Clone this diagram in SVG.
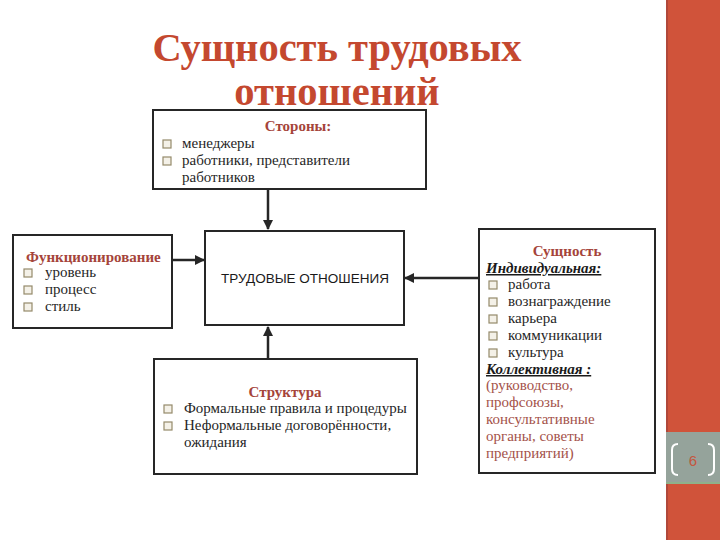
<svg xmlns="http://www.w3.org/2000/svg" width="720" height="540" viewBox="0 0 720 540">
<style>
.box{fill:#fff;stroke:#262626;stroke-width:2}
.t{font-family:"Liberation Serif",serif;font-size:15px;fill:#262626}
.h{font-family:"Liberation Serif",serif;font-size:15px;font-weight:bold;fill:#A5443A}
.u{font-family:"Liberation Serif",serif;font-size:15px;font-weight:bold;font-style:italic;text-decoration:underline;fill:#1a1a1a}
.r{font-family:"Liberation Serif",serif;font-size:15px;fill:#A4524A}
.cb{fill:#F4F1E8;stroke:#948A6A;stroke-width:1.2}
.title{font-family:"Liberation Serif",serif;font-size:40.5px;font-weight:bold;fill:#C4482F}
.ln{stroke:#262626;stroke-width:2.5;fill:none}
</style>
<defs>
<marker id="ah" viewBox="0 0 10 10" refX="9" refY="5" markerWidth="4" markerHeight="4" orient="auto">
<path d="M0,0 L10,5 L0,10 z" fill="#262626"/>
</marker>
<symbol id="chk" viewBox="0 0 10 10"><rect class="cb" x="1" y="1" width="8" height="8"/></symbol>
</defs>
<rect width="720" height="540" fill="#fff"/>
<g id="sidebar">
<rect x="666" y="0" width="54" height="540" fill="#D0533A"/>
<rect x="666" y="0" width="2" height="540" fill="#B0483A"/>
<rect x="666" y="432" width="54" height="50" fill="#95A39B"/>
<rect x="666" y="482" width="54" height="2" fill="#8FB08A"/>
<path d="M678,444 Q672,444 672,450 L672,469 Q672,475 678,475" stroke="#fff" stroke-width="2" fill="none"/>
<path d="M708,444 Q714,444 714,450 L714,469 Q714,475 708,475" stroke="#fff" stroke-width="2" fill="none"/>
<text x="693" y="466" text-anchor="middle" font-family="Liberation Sans,sans-serif" font-size="15" fill="#C4573F">6</text>
</g>
<g id="title">
<text class="title" x="337" y="61" text-anchor="middle">Сущность трудовых</text>
<text class="title" x="337" y="105" text-anchor="middle">отношений</text>
</g>
<g id="connectors">
<line class="ln" x1="268" y1="189" x2="268" y2="229" marker-end="url(#ah)"/>
<line class="ln" x1="172" y1="260" x2="204" y2="260" marker-end="url(#ah)"/>
<line class="ln" x1="479" y1="278" x2="405" y2="278" marker-end="url(#ah)"/>
<line class="ln" x1="268" y1="359" x2="268" y2="327" marker-end="url(#ah)"/>
</g>
<g id="storony">
<rect class="box" x="153" y="110" width="273" height="79"/>
<text class="h" x="298" y="131" text-anchor="middle">Стороны:</text>
<use href="#chk" x="162" y="139" width="10" height="10"/>
<text class="t" x="182" y="148">менеджеры</text>
<use href="#chk" x="162" y="156" width="10" height="10"/>
<text class="t" x="182" y="165">работники, представители</text>
<text class="t" x="182" y="182">работников</text>
</g>
<g id="funk">
<rect class="box" x="13" y="235" width="159" height="93"/>
<text class="h" x="26" y="262">Функционирование</text>
<use href="#chk" x="23" y="268" width="10" height="10"/>
<text class="t" x="45" y="277">уровень</text>
<use href="#chk" x="23" y="285" width="10" height="10"/>
<text class="t" x="45" y="294">процесс</text>
<use href="#chk" x="23" y="302" width="10" height="10"/>
<text class="t" x="45" y="311">стиль</text>
</g>
<g id="center">
<rect class="box" x="205" y="231" width="199" height="94"/>
<text x="305" y="283" text-anchor="middle" font-family="Liberation Sans,sans-serif" font-size="13.5" fill="#1a1a1a">ТРУДОВЫЕ ОТНОШЕНИЯ</text>
</g>
<g id="struktura">
<rect class="box" x="154" y="359" width="263" height="115"/>
<text class="h" x="285" y="397" text-anchor="middle">Структура</text>
<use href="#chk" x="163" y="404" width="10" height="10"/>
<text class="t" x="184" y="413">Формальные правила и процедуры</text>
<use href="#chk" x="163" y="421" width="10" height="10"/>
<text class="t" x="184" y="430">Неформальные договорённости,</text>
<text class="t" x="184" y="447">ожидания</text>
</g>
<g id="sushchnost">
<rect class="box" x="479" y="229" width="176" height="244"/>
<text class="h" x="567" y="256" text-anchor="middle">Сущность</text>
<text class="u" x="486" y="273">Индивидуальная:</text>
<use href="#chk" x="488" y="280" width="10" height="10"/>
<text class="t" x="508" y="289">работа</text>
<use href="#chk" x="488" y="297" width="10" height="10"/>
<text class="t" x="508" y="306">вознаграждение</text>
<use href="#chk" x="488" y="314" width="10" height="10"/>
<text class="t" x="508" y="323">карьера</text>
<use href="#chk" x="488" y="331" width="10" height="10"/>
<text class="t" x="508" y="340">коммуникации</text>
<use href="#chk" x="488" y="348" width="10" height="10"/>
<text class="t" x="508" y="357">культура</text>
<text class="u" x="486" y="374">Коллективная :</text>
<text class="r" x="486" y="390">(руководство,</text>
<text class="r" x="486" y="407">профсоюзы,</text>
<text class="r" x="486" y="424">консультативные</text>
<text class="r" x="486" y="441">органы, советы</text>
<text class="r" x="486" y="458">предприятий)</text>
</g>
</svg>
